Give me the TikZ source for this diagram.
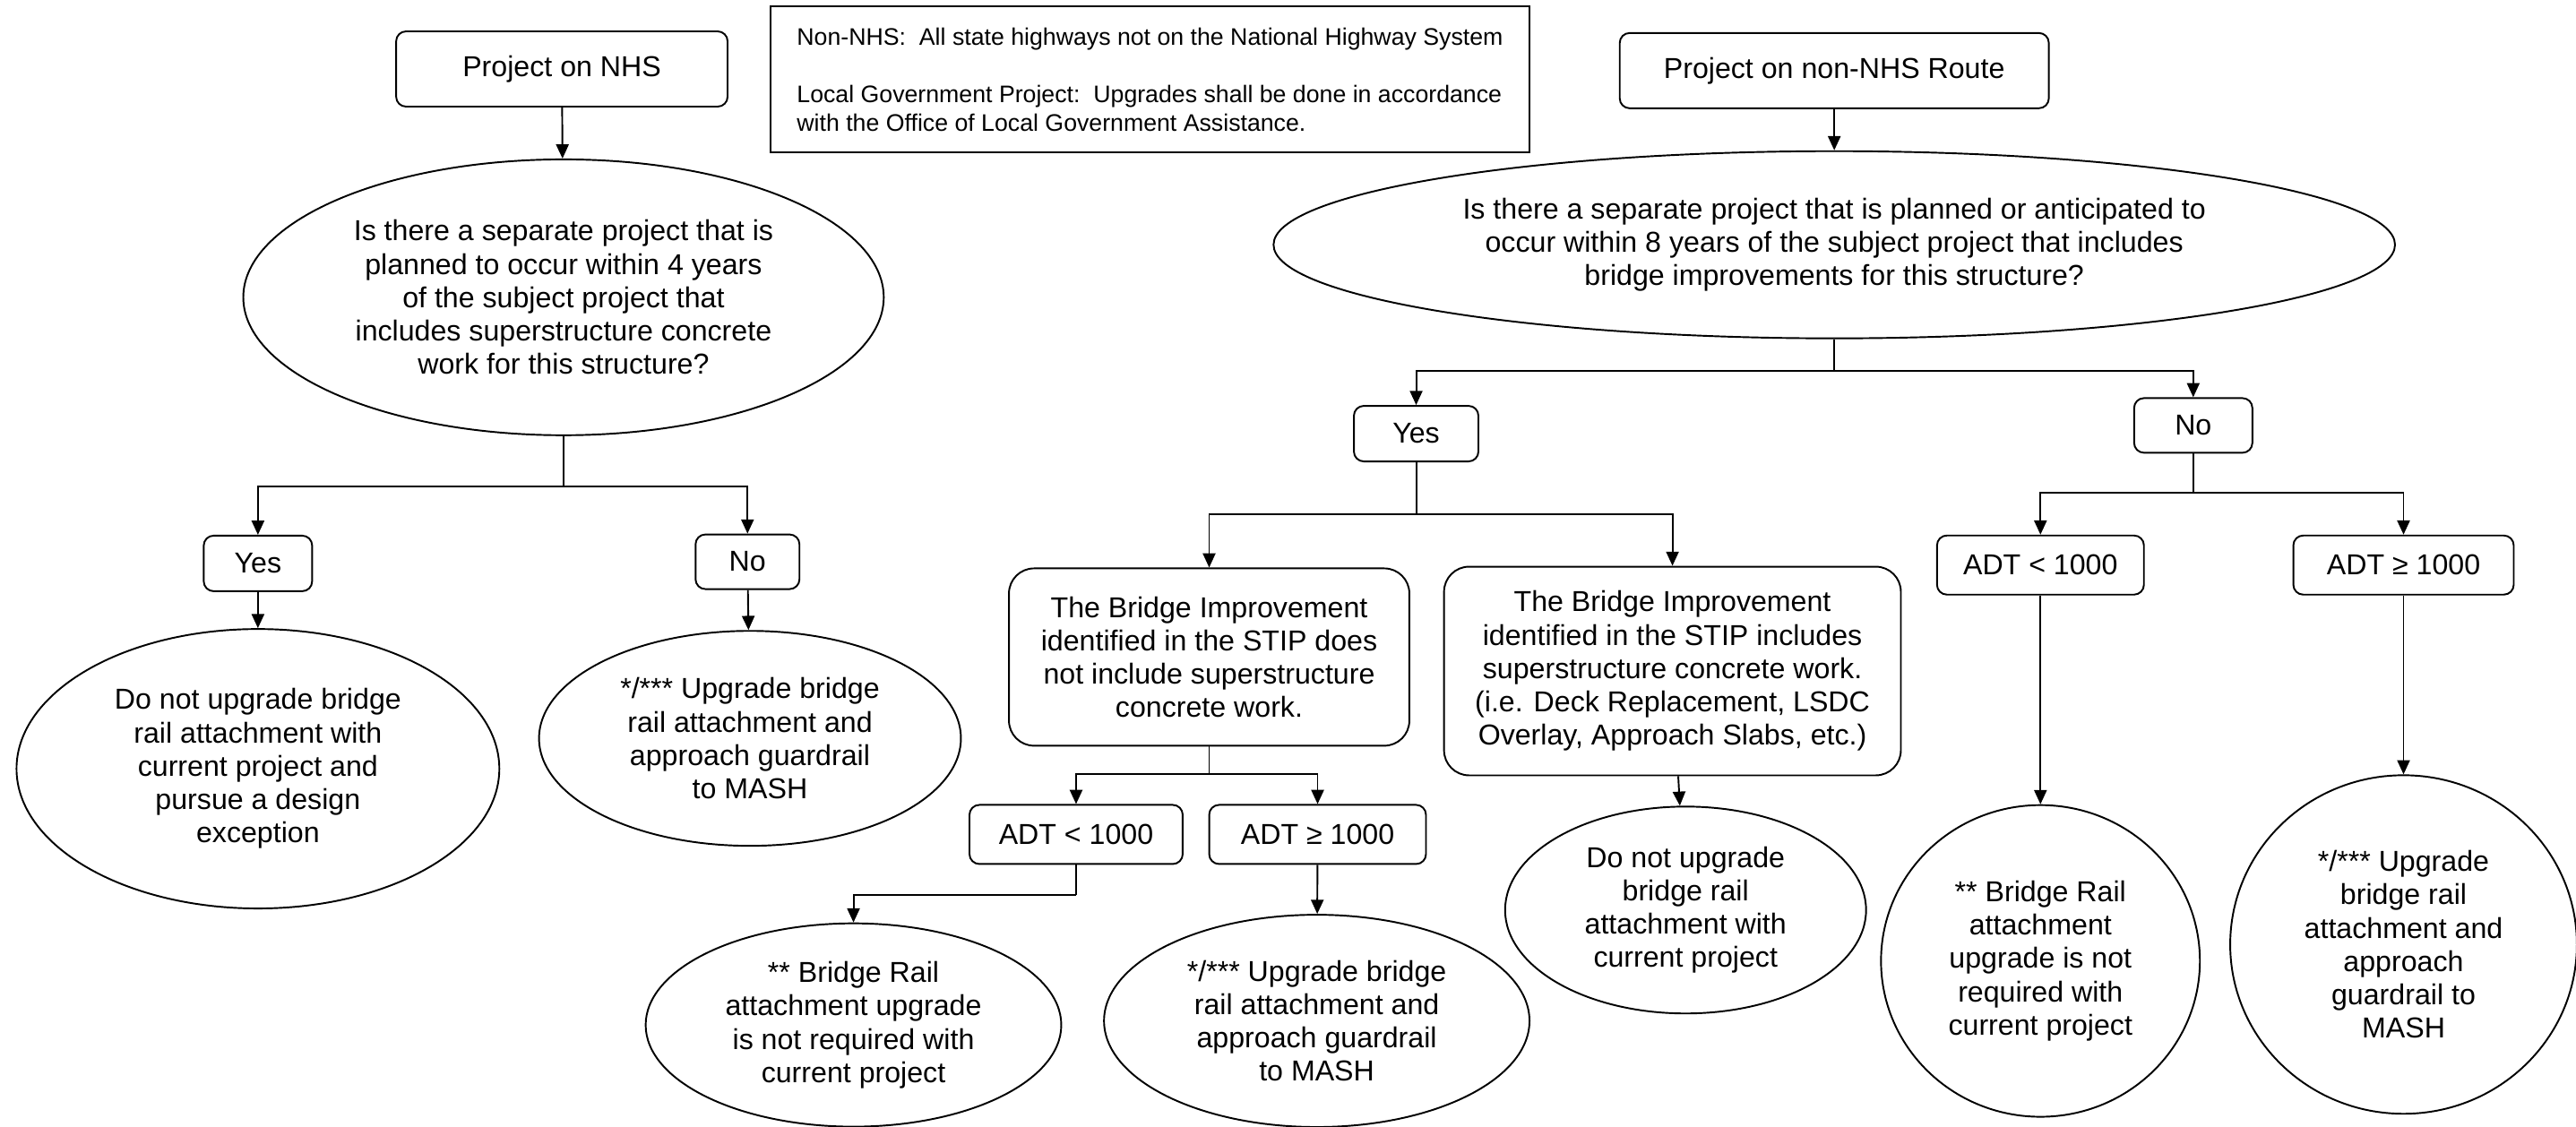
\documentclass[tikz,border=0pt]{standalone}
\usepackage{fontspec}
\setmainfont{Liberation Sans}
\usetikzlibrary{shapes.geometric,arrows.meta}

\begin{document}
\begin{tikzpicture}[x=0.018335cm, y=-0.018335cm, line width=0.55pt,
    font=\fontsize{9.15}{10.6}\selectfont,
    >={Triangle[length=4.5pt,width=4pt]},
    box/.style={draw, rounded corners=1.1mm, align=center, inner sep=0pt},
    bigbox/.style={draw, rounded corners=2.8mm, align=center, inner sep=0pt},
    oval/.style={draw, ellipse, align=center, inner sep=0pt}]
    \useasboundingbox (0,0) rectangle (1568,686);

    % NHS branch
    \node[box, minimum width=3.70cm, minimum height=0.84cm] (nhs) at (342,42) {Project on NHS};
    \node[oval, minimum width=7.15cm, minimum height=3.08cm] (q4) at (343,181)
        {Is there a separate project that is\\planned to occur within 4 years\\of the subject project that\\includes superstructure concrete\\work for this structure?};
    \node[box, minimum width=1.21cm, minimum height=0.62cm] (yes4) at (157,343) {Yes};
    \node[box, minimum width=1.16cm, minimum height=0.61cm] (no4) at (455,342) {No};
    \node[oval, minimum width=5.39cm, minimum height=3.12cm] (except) at (157,468)
        {Do not upgrade bridge\\rail attachment with\\current project and\\pursue a design\\exception};
    \node[oval, minimum width=4.71cm, minimum height=2.40cm] (mashA) at (456.5,449.5)
        {*/*** Upgrade bridge\\rail attachment and\\approach guardrail\\to MASH};

    % notes
    \node[draw, minimum width=8.47cm, minimum height=1.63cm, align=left, font=\fontsize{7.6}{9.1}\selectfont,
          inner ysep=6pt] (notes) at (700,48.5)
        {Non-NHS:\ \ All state highways not on the National Highway System\\[9.1pt]
         Local Government Project:\ \ Upgrades shall be done in accordance\\with the Office of Local Government Assistance.};

    % non-NHS branch
    \node[box, minimum width=4.79cm, minimum height=0.84cm] (nonnhs) at (1116.5,43) {Project on non-NHS Route};
    \node[oval, minimum width=12.52cm, minimum height=2.09cm] (q8) at (1116.5,149)
        {Is there a separate project that is planned or anticipated to\\occur within 8 years of the subject project that includes\\bridge improvements for this structure?};
    \node[box, minimum width=1.39cm, minimum height=0.62cm] (yes8) at (862,264) {Yes};
    \node[box, minimum width=1.32cm, minimum height=0.61cm] (no8) at (1335,259) {No};

    \node[bigbox, minimum width=4.47cm, minimum height=1.98cm] (stipno) at (736,400)
        {The Bridge Improvement\\identified in the STIP does\\not include superstructure\\concrete work.};
    \node[bigbox, minimum width=5.10cm, minimum height=2.33cm] (stipyes) at (1018,408.5)
        {The Bridge Improvement\\identified in the STIP includes\\superstructure concrete work.\\(i.e. Deck Replacement, LSDC\\Overlay, Approach Slabs, etc.)};

    \node[box, minimum width=2.38cm, minimum height=0.66cm] (lowA) at (655,508) {ADT < 1000};
    \node[box, minimum width=2.42cm, minimum height=0.66cm] (highA) at (802,508) {ADT ≥ 1000};
    \node[oval, minimum width=4.64cm, minimum height=2.27cm] (norailA) at (519.5,624)
        {** Bridge Rail\\attachment upgrade\\is not required with\\current project};
    \node[oval, minimum width=4.75cm, minimum height=2.37cm] (mashB) at (801.5,621.5)
        {*/*** Upgrade bridge\\rail attachment and\\approach guardrail\\to MASH};
    \node[oval, minimum width=4.03cm, minimum height=2.31cm] (noup) at (1026,554)
        {Do not upgrade\\bridge rail\\attachment with\\current project};

    \node[box, minimum width=2.31cm, minimum height=0.66cm] (lowB) at (1242,344) {ADT < 1000};
    \node[box, minimum width=2.46cm, minimum height=0.66cm] (highB) at (1463,344) {ADT ≥ 1000};
    \node[oval, minimum width=3.56cm, minimum height=3.48cm] (norailB) at (1242,585)
        {** Bridge Rail\\attachment\\upgrade is not\\required with\\current project};
    \node[oval, minimum width=3.87cm, minimum height=3.78cm] (mashC) at (1463,575)
        {*/*** Upgrade\\bridge rail\\attachment and\\approach\\guardrail to\\MASH};

    % split points
    \coordinate (s1) at (343,296);
    \coordinate (s2) at (1116.5,226);
    \coordinate (s3) at (862,313);
    \coordinate (s4) at (736,471);
    \coordinate (s5) at (1335,300);
    \coordinate (bend) at (655,545);

    \draw[->] (nhs) -- (q4);
    \draw (q4) -- (s1);
    \draw[->] (s1) -| (yes4);
    \draw[->] (s1) -| (no4);
    \draw[->] (yes4) -- (except);
    \draw[->] (no4) -- (mashA);

    \draw[->] (nonnhs) -- (q8);
    \draw (q8) -- (s2);
    \draw[->] (s2) -| (yes8);
    \draw[->] (s2) -| (no8);

    \draw (yes8) -- (s3);
    \draw[->] (s3) -| (stipno);
    \draw[->] (s3) -| (stipyes);
    \draw (stipno) -- (s4);
    \draw[->] (s4) -| (lowA);
    \draw[->] (s4) -| (highA);
    \draw (lowA) -- (bend);
    \draw[->] (bend) -| (norailA);
    \draw[->] (highA) -- (mashB);
    \draw[->] (stipyes) -- (noup);

    \draw (no8) -- (s5);
    \draw[->] (s5) -| (lowB);
    \draw[->] (s5) -| (highB);
    \draw[->] (lowB) -- (norailB);
    \draw[->] (highB) -- (mashC);
\end{tikzpicture}
\end{document}
